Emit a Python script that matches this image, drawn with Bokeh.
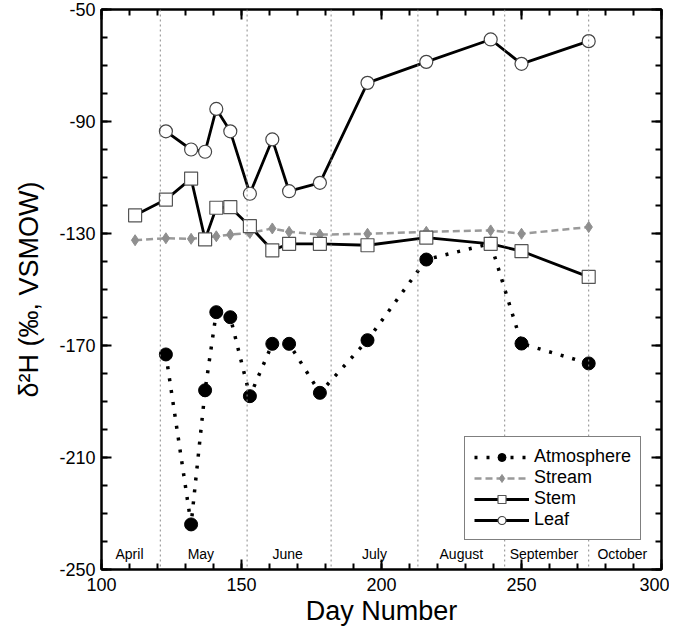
from bokeh.plotting import figure
from bokeh.models import (LinearAxis, SingleIntervalTicker, FixedTicker, Span, Legend,
                          LegendItem, Range1d, ColumnDataSource, CustomJSTickFormatter)
from bokeh.core.properties import value
from bokeh.embed import file_html
from bokeh.resources import INLINE

# ---- data ----
atm_day = [123, 132, 137, 141, 146, 153, 161, 167, 178, 195, 216, 239, 250, 274]
atm_val = [-173.2, -233.9, -186.0, -158.1, -159.9, -188.1, -169.4, -169.4, -186.9,
           -168.1, -139.3, -133.6, -169.3, -176.4]

stream_day = [112, 123, 132, 141, 146, 153, 161, 167, 178, 195, 216, 239, 250, 274]
stream_val = [-132.4, -131.7, -131.9, -131.0, -130.4, -129.8, -128.2, -129.4, -130.4,
              -130.1, -129.4, -128.9, -130.1, -127.7]

stem_day = [112, 123, 132, 137, 141, 146, 153, 161, 167, 178, 195, 216, 239, 250, 274]
stem_val = [-123.5, -117.9, -110.4, -132.1, -120.8, -120.6, -127.4, -136.0, -133.7,
            -133.7, -134.2, -131.5, -133.7, -136.3, -145.5]

leaf_day = [123, 132, 137, 141, 146, 153, 161, 167, 178, 195, 216, 239, 250, 274]
leaf_val = [-93.5, -100.0, -100.8, -85.5, -93.5, -115.8, -96.4, -114.9, -111.9,
            -76.2, -68.7, -60.7, -69.4, -61.3]

y_ticks = [-250, -210, -170, -130, -90, -50]
y_tick_labels = ["-250", "-210", "-170", "-130", "-90", "-50"]
y_minor = list(range(-250, -49, 10))

month_start = [121, 152, 182, 213, 244, 274]
month_names = ["April", "May", "June", "July", "August", "September", "October"]
month_mid = [110, 135.5, 166.5, 197.5, 228.5, 258, 286]

FONT = "Liberation Sans"

p = figure(frame_width=560, frame_height=560,
           x_range=Range1d(100, 300), y_range=Range1d(-250, -50),
           x_axis_type=None, y_axis_type=None,
           output_backend="svg", toolbar_location=None,
           min_border_left=101, min_border_top=9, min_border_right=8, min_border_bottom=10)
p.outline_line_color = "black"
p.outline_line_width = 2
p.background_fill_color = "white"


def style_axis(ax, show_labels):
    ax.axis_line_width = 2
    ax.axis_line_color = "black"
    ax.major_tick_line_width = 2
    ax.minor_tick_line_width = 2
    ax.major_tick_in = 10
    ax.major_tick_out = 0
    ax.minor_tick_in = 6
    ax.minor_tick_out = 0
    ax.major_label_text_font = FONT
    ax.major_label_text_font_size = "18px"
    ax.major_label_text_color = "black"
    if not show_labels:
        ax.formatter = CustomJSTickFormatter(code="return '';")
        ax.major_label_standoff = 0


def x_ticker():
    return SingleIntervalTicker(interval=50, num_minor_ticks=5)


def y_ticker():
    return FixedTicker(ticks=y_ticks, minor_ticks=y_minor)


xb = LinearAxis(ticker=x_ticker())
style_axis(xb, True)
xb.major_label_standoff = 8
xb.axis_label = "Day Number"
xb.axis_label_text_font = FONT
xb.axis_label_text_font_size = "27px"
xb.axis_label_text_font_style = "normal"
xb.axis_label_text_color = "black"
xb.axis_label_standoff = 2
p.add_layout(xb, "below")

xt = LinearAxis(ticker=x_ticker())
style_axis(xt, False)
p.add_layout(xt, "above")

yl = LinearAxis(ticker=y_ticker())
style_axis(yl, True)
yl.major_label_overrides = {t: s for t, s in zip(y_ticks, y_tick_labels)}
yl.major_label_standoff = 6
yl.axis_label = "δ²H (‰, VSMOW)"
yl.axis_label_text_font = FONT
yl.axis_label_text_font_size = "27px"
yl.axis_label_text_font_style = "normal"
yl.axis_label_text_color = "black"
yl.axis_label_standoff = 12
p.add_layout(yl, "left")

yr = LinearAxis(ticker=y_ticker())
style_axis(yr, False)
p.add_layout(yr, "right")

# month boundaries
for d in month_start:
    p.add_layout(Span(location=d, dimension="height", line_color="#8a8a8a",
                      line_width=1, line_dash="2 3"))

p.text(x=month_mid, y=[-244.6] * len(month_mid), text=month_names,
       text_font=value(FONT), text_font_size="14px", text_align="center",
       text_baseline="middle", text_color="black")

# series
atm_src = ColumnDataSource(dict(x=atm_day, y=atm_val))
a_line = p.line("x", "y", source=atm_src, line_color="black", line_width=3.5, line_dash="3 9")
a_pts = p.scatter("x", "y", source=atm_src, marker="circle", size=13,
                  fill_color="black", line_color="black")

st_src = ColumnDataSource(dict(x=stream_day, y=stream_val))
s_line = p.line("x", "y", source=st_src, line_color="#9a9a9a", line_width=2.5, line_dash="7 4")
s_pts = p.scatter("x", "y", source=st_src, marker="diamond", size=11,
                  fill_color="#8f8f8f", line_color="#8f8f8f")

sm_src = ColumnDataSource(dict(x=stem_day, y=stem_val))
m_line = p.line("x", "y", source=sm_src, line_color="black", line_width=2.8)
m_pts = p.scatter("x", "y", source=sm_src, marker="square", size=13,
                  fill_color="white", line_color="#555555", line_width=1.2)

lf_src = ColumnDataSource(dict(x=leaf_day, y=leaf_val))
l_line = p.line("x", "y", source=lf_src, line_color="black", line_width=2.8)
l_pts = p.scatter("x", "y", source=lf_src, marker="circle", size=13,
                  fill_color="white", line_color="#444444", line_width=1.2)

legend = Legend(items=[
    LegendItem(label="Atmosphere", renderers=[a_line, a_pts]),
    LegendItem(label="Stream", renderers=[s_line, s_pts]),
    LegendItem(label="Stem", renderers=[m_line, m_pts]),
    LegendItem(label="Leaf", renderers=[l_line, l_pts]),
], location=(363, 29))
legend.label_text_font = FONT
legend.label_text_font_size = "18px"
legend.label_text_color = "black"
legend.label_height = 20
legend.glyph_height = 20
legend.glyph_width = 55
legend.label_standoff = 5
legend.spacing = 0
legend.padding = 9
legend.margin = 0
legend.border_line_color = "black"
legend.border_line_width = 1.5
legend.background_fill_alpha = 1
p.add_layout(legend)

open("out.html", "w").write(file_html(p, INLINE))
